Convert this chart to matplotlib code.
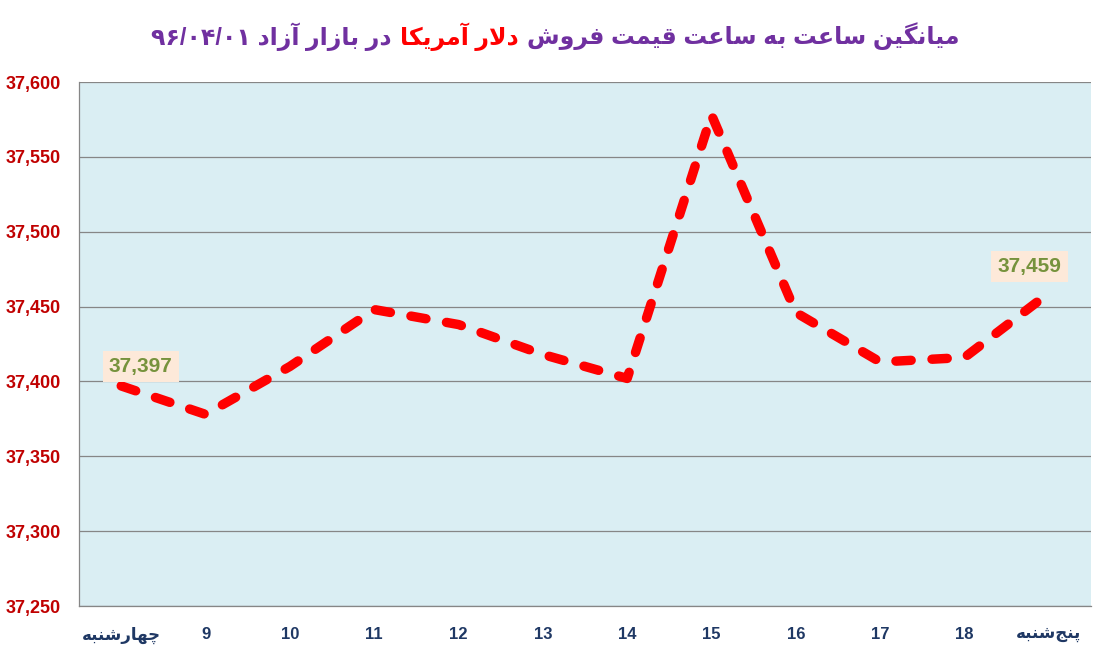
import matplotlib
matplotlib.use("Agg")
import matplotlib.pyplot as plt
from matplotlib.offsetbox import TextArea, HPacker, AnchoredOffsetbox
from matplotlib.ticker import FuncFormatter

# hourly average sell price of US dollar, 96/04/01
hours = ["چهارشنبه", "9", "10", "11", "12", "13", "14", "15", "16", "17", "18", "پنج\u200cشنبه"]
prices = [37397, 37378, 37410, 37448, 37438, 37418, 37402, 37578, 37446, 37413, 37416, 37459]
y_ticks = [37250, 37300, 37350, 37400, 37450, 37500, 37550, 37600]

title_left = "در بازار آزاد"
title_red = "دلار آمریکا"
title_right = "میانگین ساعت به ساعت قیمت فروش"
title_date = "۹۶/۰۴/۰۱"

# no complex text layout in matplotlib -> shape persian by hand
# (isolated, final, initial, medial)
FORMS = {
    'ا': ('\uFE8D', '\uFE8E', None, None),
    'آ': ('\uFE81', '\uFE82', None, None),
    'ب': ('\uFE8F', '\uFE90', '\uFE91', '\uFE92'),
    'پ': ('\uFB56', '\uFB57', '\uFB58', '\uFB59'),
    'ت': ('\uFE95', '\uFE96', '\uFE97', '\uFE98'),
    'ج': ('\uFE9D', '\uFE9E', '\uFE9F', '\uFEA0'),
    'چ': ('\uFB7A', '\uFB7B', '\uFB7C', '\uFB7D'),
    'د': ('\uFEA9', '\uFEAA', None, None),
    'ر': ('\uFEAD', '\uFEAE', None, None),
    'ز': ('\uFEAF', '\uFEB0', None, None),
    'س': ('\uFEB1', '\uFEB2', '\uFEB3', '\uFEB4'),
    'ش': ('\uFEB5', '\uFEB6', '\uFEB7', '\uFEB8'),
    'ع': ('\uFEC9', '\uFECA', '\uFECB', '\uFECC'),
    'ف': ('\uFED1', '\uFED2', '\uFED3', '\uFED4'),
    'ق': ('\uFED5', '\uFED6', '\uFED7', '\uFED8'),
    'ک': ('\uFB8E', '\uFB8F', '\uFB90', '\uFB91'),
    'گ': ('\uFB92', '\uFB93', '\uFB94', '\uFB95'),
    'ل': ('\uFEDD', '\uFEDE', '\uFEDF', '\uFEE0'),
    'م': ('\uFEE1', '\uFEE2', '\uFEE3', '\uFEE4'),
    'ن': ('\uFEE5', '\uFEE6', '\uFEE7', '\uFEE8'),
    'ه': ('\uFEE9', '\uFEEA', '\uFEEB', '\uFEEC'),
    'و': ('\uFEED', '\uFEEE', None, None),
    'ی': ('\uFBFC', '\uFBFD', '\uFBFE', '\uFBFF'),
}
LAM_ALEF = {'ا': ('\uFEFB', '\uFEFC'), 'آ': ('\uFEF5', '\uFEF6')}


def shape(s):
    if not any(c in FORMS for c in s):
        return s
    out = []
    i = 0
    n = len(s)
    while i < n:
        c = s[i]
        if c not in FORMS:
            if c != '\u200c':
                out.append(c)
            i += 1
            continue
        prev = s[i-1] if i > 0 else None
        join_prev = prev in FORMS and FORMS[prev][2] is not None
        nxt = s[i+1] if i < n-1 else None
        if c == 'ل' and nxt in LAM_ALEF:
            out.append(LAM_ALEF[nxt][1 if join_prev else 0])
            i += 2
            continue
        f = FORMS[c]
        join_next = f[2] is not None and nxt in FORMS
        if join_prev and join_next:
            out.append(f[3])
        elif join_prev:
            out.append(f[1])
        elif join_next:
            out.append(f[2])
        else:
            out.append(f[0])
        i += 1
    return ''.join(reversed(out))


fam = ['Liberation Sans', 'DejaVu Sans']
plt.rcParams['font.family'] = fam
plt.rcParams['lines.scale_dashes'] = False

fig = plt.figure(figsize=(11.01, 6.56), dpi=100)
ax = fig.add_axes([0.0718, 0.0762, 0.9191, 0.7988])
ax.set_facecolor('#DAEEF3')

X = list(range(len(hours)))
line, = ax.plot(X, prices, color='#FF0000', lw=6.8, solid_capstyle='round',
                dash_capstyle='round', dash_joinstyle='round')
line.set_dashes((11, 15))

ax.set_xlim(-0.5, len(hours) - 0.5)
ax.set_ylim(y_ticks[0], y_ticks[-1])
ax.set_yticks(y_ticks)
ax.yaxis.set_major_formatter(FuncFormatter(lambda v, p: "{:,}".format(int(v))))
ax.set_xticks(X)
ax.set_xticklabels([shape(h) for h in hours])
ax.grid(axis='y', color='#868686', lw=0.9)
ax.set_axisbelow(True)
ax.tick_params(axis='both', length=0)
ax.tick_params(axis='y', pad=13, labelsize=13, labelcolor='#C00000')
ax.tick_params(axis='x', pad=15, labelsize=12, labelcolor='#1F3864')
for t in ax.get_yticklabels() + ax.get_xticklabels():
    t.set_fontweight('bold')

for s in ['top', 'right']:
    ax.spines[s].set_visible(False)
for s in ['left', 'bottom']:
    ax.spines[s].set_color('#868686')
    ax.spines[s].set_linewidth(0.9)

# data labels on first and last point
for idx, off in [(0, (14, 14)), (len(prices) - 1, (-14, 19))]:
    ax.annotate("{:,}".format(prices[idx]), (X[idx], prices[idx]), xytext=off,
                textcoords='offset points', ha='center', va='center',
                fontsize=15, fontweight='bold', color='#76923C',
                bbox=dict(boxstyle='square,pad=0.3', fc='#FDE9D9', ec='none'))

# two-colour title
tprops = dict(fontsize=17, fontweight='bold', family=fam)
parts = [
    TextArea(title_date + " " + shape(title_left), textprops=dict(color='#7030A0', **tprops)),
    TextArea(shape(title_red), textprops=dict(color='#FF0000', **tprops)),
    TextArea(shape(title_right), textprops=dict(color='#7030A0', **tprops)),
]
box = HPacker(children=parts, align='center', pad=0, sep=6)
anc = AnchoredOffsetbox(loc='upper center', child=box, frameon=False,
                        bbox_to_anchor=(0.504, 0.975), bbox_transform=fig.transFigure,
                        borderpad=0)
fig.add_artist(anc)

plt.savefig("out.png", dpi=100)
